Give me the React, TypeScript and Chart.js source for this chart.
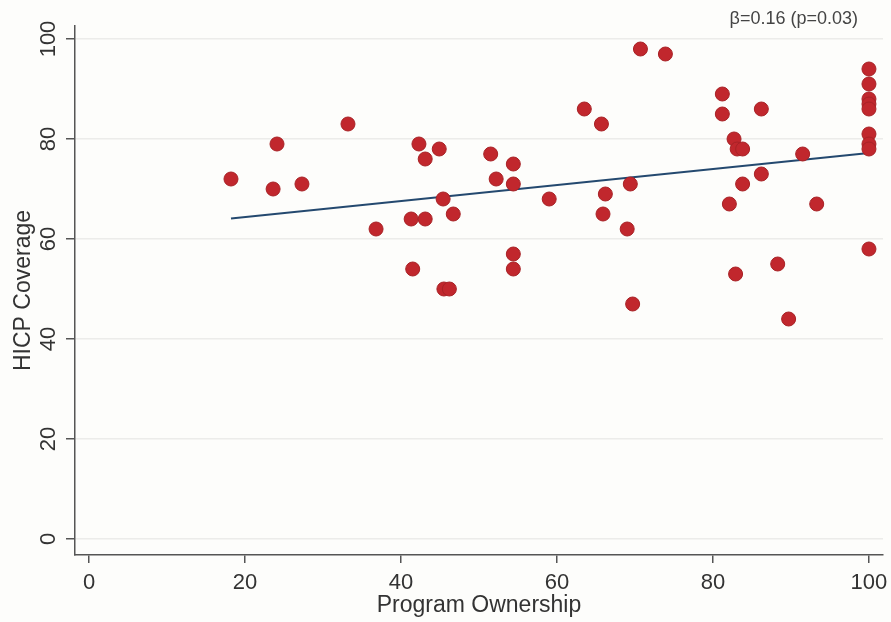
import React, { useEffect, useRef } from 'react';
import { Chart, registerables } from 'chart.js';
Chart.register(...registerables);

const ownership = [18.2, 23.6, 24.1, 27.3, 33.2, 36.8, 41.3, 41.5, 42.3, 43.1, 43.1, 44.9, 45.4, 46.7, 45.5, 46.2, 51.5, 52.2, 54.4, 54.4, 54.4, 54.4, 59.0, 63.5, 65.7, 65.9, 66.2, 69.0, 69.4, 69.7, 70.7, 73.9, 81.2, 81.2, 82.1, 82.7, 83.1, 83.8, 82.9, 83.8, 86.2, 86.2, 88.3, 89.7, 91.5, 93.3, 100, 100, 100, 100, 100, 100, 100, 100, 100];
const coverage = [72, 70, 79, 71, 83, 62, 64, 54, 79, 76, 64, 78, 68, 65, 50, 50, 77, 72, 75, 71, 57, 54, 68, 86, 83, 65, 69, 62, 71, 47, 98, 97, 89, 85, 67, 80, 78, 78, 53, 71, 86, 73, 55, 44, 77, 67, 94, 91, 88, 87, 86, 81, 79, 78, 58];
const fitX = [18.2, 100];
const fitY = [64.1, 77.2];
const tickValues = [0, 20, 40, 60, 80, 100];
const xTitle = 'Program Ownership';
const yTitle = 'HICP Coverage';
const note = 'β=0.16 (p=0.03)';

const FONT = '"Liberation Sans", Arial, sans-serif';

export default function App() {
  const ref = useRef<HTMLCanvasElement>(null);
  useEffect(() => {
    if (!ref.current) return;
    const bg = {
      id: 'bg',
      beforeDraw(c: any) {
        const ctx = c.ctx;
        ctx.save();
        ctx.fillStyle = '#fdfdfb';
        ctx.fillRect(0, 0, c.width, c.height);
        ctx.restore();
      },
    };
    const labels = {
      id: 'labels',
      afterDraw(c: any) {
        const ctx = c.ctx;
        const xs = c.scales.x;
        const ys = c.scales.y;
        ctx.save();
        ctx.fillStyle = '#333333';
        ctx.textAlign = 'center';
        ctx.textBaseline = 'middle';
        ctx.font = `22px ${FONT}`;
        tickValues.forEach((v) => {
          const py = ys.getPixelForValue(v);
          ctx.save();
          ctx.translate(49, py);
          ctx.rotate(-Math.PI / 2);
          ctx.fillText(String(v), 0, 0);
          ctx.restore();
        });
        tickValues.forEach((v) => {
          const px = xs.getPixelForValue(v);
          ctx.fillText(String(v), px, 583);
        });
        ctx.font = `23px ${FONT}`;
        ctx.fillText(xTitle, (c.chartArea.left + c.chartArea.right) / 2, 606);
        ctx.save();
        ctx.translate(24, (c.chartArea.top + c.chartArea.bottom) / 2);
        ctx.rotate(-Math.PI / 2);
        ctx.fillText(yTitle, 0, 0);
        ctx.restore();
        ctx.font = `18px ${FONT}`;
        ctx.fillStyle = '#444444';
        ctx.textAlign = 'right';
        ctx.fillText(note, 858, 19);
        ctx.restore();
      },
    };
    const chart = new Chart(ref.current, {
      type: 'scatter',
      data: {
        datasets: [
          {
            label: 'HICP Coverage',
            data: ownership.map((x, i) => ({ x, y: coverage[i] })),
            backgroundColor: '#c1272d',
            borderColor: '#a82226',
            borderWidth: 1,
            pointRadius: 7,
          },
          {
            type: 'line',
            label: 'Fitted',
            data: fitX.map((x, i) => ({ x, y: fitY[i] })),
            borderColor: '#24496f',
            borderWidth: 2,
            pointRadius: 0,
            showLine: true,
            fill: false,
          } as any,
        ],
      },
      options: {
        responsive: false,
        animation: false,
        layout: { padding: { top: 26, right: 8, left: 0, bottom: 0 } },
        plugins: { legend: { display: false }, tooltip: { enabled: false } },
        scales: {
          x: {
            type: 'linear',
            min: -1.8,
            max: 101.8,
            afterBuildTicks: (s: any) => {
              s.ticks = tickValues.map((v) => ({ value: v }));
            },
            afterFit: (s: any) => {
              s.height = 67;
            },
            ticks: { display: false },
            grid: { drawOnChartArea: false, drawTicks: true, tickLength: 8, tickColor: '#555555', lineWidth: 1.5 },
            border: { color: '#555555', width: 1.5 },
          },
          y: {
            type: 'linear',
            min: -3.2,
            max: 102.6,
            afterBuildTicks: (s: any) => {
              s.ticks = tickValues.map((v) => ({ value: v }));
            },
            afterFit: (s: any) => {
              s.width = 75;
            },
            ticks: { display: false },
            grid: { color: '#ececea', lineWidth: 1.5, drawTicks: true, tickLength: 9, tickColor: '#555555' },
            border: { color: '#555555', width: 1.5 },
          },
        },
      },
      plugins: [bg, labels],
    });
    return () => chart.destroy();
  }, []);
  return (
    <div style={{ position: 'absolute', left: 0, top: 0, width: 891, height: 622 }}>
      <canvas ref={ref} width={891} height={622} style={{ display: 'block' }} />
    </div>
  );
}
